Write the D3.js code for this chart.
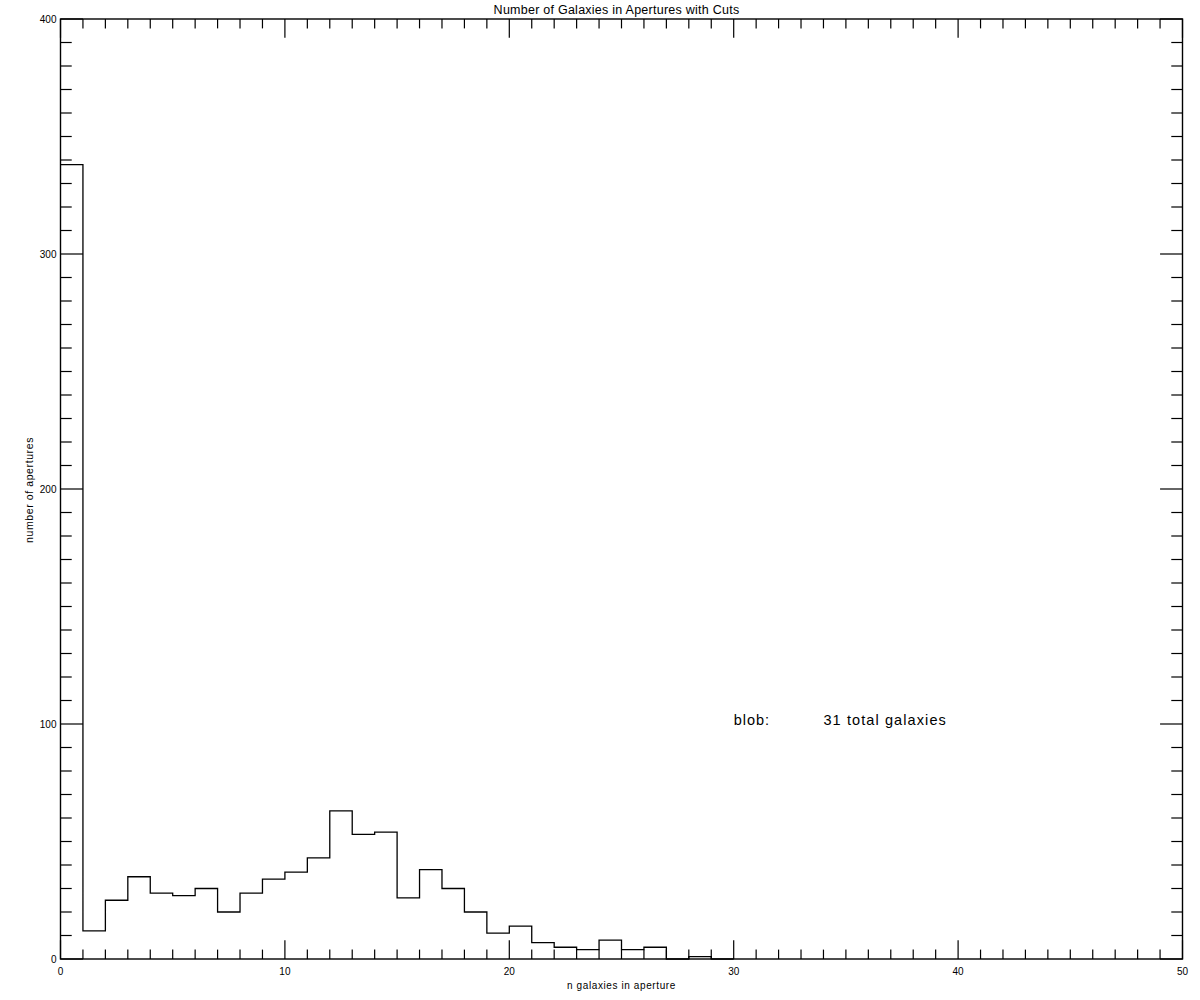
<!DOCTYPE html>
<html>
<head>
<meta charset="utf-8">
<script src="https://cdn.jsdelivr.net/npm/d3@7"></script>
<style>
  body { margin: 0; background: #fff; }
  text { font-family: "Liberation Sans", Arial, sans-serif; fill: #000; }
</style>
</head>
<body>
<svg id="chart"></svg>
<script>
// histogram counts, one per bin of width 1 starting at 0
var binStart = 0;
var counts = [338, 12, 25, 35, 28, 27, 30, 20, 28, 34, 37, 43, 63, 53, 54, 26, 38, 30, 20, 11,
              14, 7, 5, 4, 8, 4, 5, 0, 1, 0];
var xTicks = [0, 10, 20, 30, 40, 50];
var yTicks = [0, 100, 200, 300, 400];
var titleText = "Number of Galaxies in Apertures with Cuts";
var xLabel = "n galaxies in aperture";
var yLabel = "number of apertures";
var noteLabel = "blob:";
var noteValue = "31 total galaxies";

// set the dimensions and margins of the graph
var margin = {top: 19, right: 17.5, bottom: 41, left: 60.5},
    width = 1200 - margin.left - margin.right,
    height = 1000 - margin.top - margin.bottom;

var x = d3.scaleLinear().domain([0, 50]).range([0, width]);
var y = d3.scaleLinear().domain([0, 400]).range([height, 0]);

var svg = d3.select("#chart")
    .attr("width", 1200)
    .attr("height", 1000)
  .append("g")
    .attr("transform", "translate(" + margin.left + "," + margin.top + ")");

// frame
svg.append("rect")
    .attr("width", width)
    .attr("height", height)
    .attr("fill", "none")
    .attr("stroke", "#000")
    .attr("stroke-width", 1.4);

// tick marks (major + minor) on all four sides
var xMinor = d3.range(0, 51, 1), yMinor = d3.range(0, 401, 10);
var xMajLen = height * 0.02, xMinLen = height * 0.01;
var yMajLen = width * 0.02, yMinLen = width * 0.01;

var ticks = svg.append("g").attr("stroke", "#000").attr("stroke-width", 1.2);
xMinor.forEach(function(v) {
  var len = (v % 10 === 0) ? xMajLen : xMinLen;
  ticks.append("line").attr("x1", x(v)).attr("x2", x(v)).attr("y1", height).attr("y2", height - len);
  ticks.append("line").attr("x1", x(v)).attr("x2", x(v)).attr("y1", 0).attr("y2", len);
});
yMinor.forEach(function(v) {
  var len = (v % 100 === 0) ? yMajLen : yMinLen;
  ticks.append("line").attr("x1", 0).attr("x2", len).attr("y1", y(v)).attr("y2", y(v));
  ticks.append("line").attr("x1", width).attr("x2", width - len).attr("y1", y(v)).attr("y2", y(v));
});

// tick labels
svg.selectAll(".xlab").data(xTicks).enter().append("text")
    .attr("x", function(d) { return x(d); })
    .attr("y", height + 16)
    .attr("text-anchor", "middle")
    .style("font-size", "10px")
    .text(function(d) { return d; });

svg.selectAll(".ylab").data(yTicks).enter().append("text")
    .attr("x", -4)
    .attr("y", function(d) { return y(d) + 4; })
    .attr("text-anchor", "end")
    .style("font-size", "10px")
    .text(function(d) { return d; });

// histogram as a step line
var pts = [];
counts.forEach(function(c, i) {
  pts.push([binStart + i, c]);
  pts.push([binStart + i + 1, c]);
});
var step = d3.line()
    .x(function(d) { return x(d[0]); })
    .y(function(d) { return y(d[1]); });

svg.append("path")
    .datum(pts)
    .attr("d", step)
    .attr("fill", "none")
    .attr("stroke", "#000")
    .attr("stroke-width", 1.3);

// title and axis titles
svg.append("text")
    .attr("x", width / 2 - 5)
    .attr("y", -5)
    .attr("text-anchor", "middle")
    .style("font-size", "12.5px")
    .style("letter-spacing", "0.25px")
    .text(titleText);

svg.append("text")
    .attr("x", width / 2)
    .attr("y", height + 30)
    .attr("text-anchor", "middle")
    .style("font-size", "10px")
    .style("letter-spacing", "0.6px")
    .text(xLabel);

svg.append("text")
    .attr("transform", "translate(" + (-28) + "," + (y(200) + 1) + ") rotate(-90)")
    .attr("text-anchor", "middle")
    .style("font-size", "10.5px")
    .style("letter-spacing", "0.6px")
    .text(yLabel);

// annotation
svg.append("text")
    .attr("x", x(30))
    .attr("y", y(100) + 1)
    .style("font-size", "14.5px")
    .style("letter-spacing", "1px")
    .text(noteLabel);

svg.append("text")
    .attr("x", x(34))
    .attr("y", y(100) + 1)
    .style("font-size", "14.5px")
    .style("letter-spacing", "1.1px")
    .text(noteValue);
</script>
</body>
</html>
